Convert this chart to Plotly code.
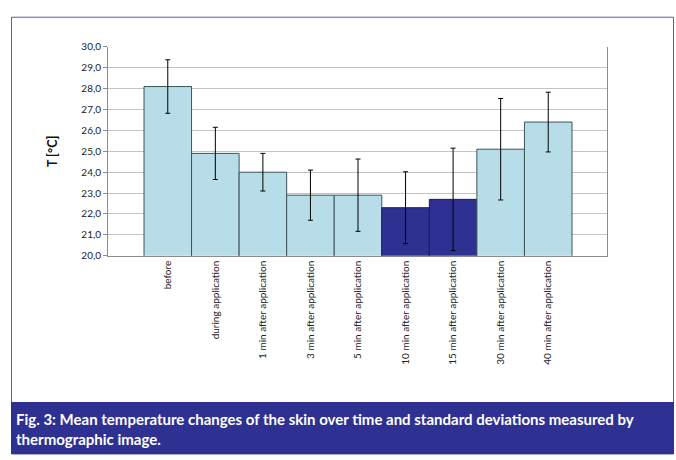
import plotly.graph_objects as go

categories = ["before", "during application", "1 min after application", "3 min after application",
              "5 min after application", "10 min after application", "15 min after application",
              "30 min after application", "40 min after application"]
mean_temp = [28.1, 24.9, 24.0, 22.9, 22.9, 22.3, 22.7, 25.1, 26.4]
std_dev = [1.28, 1.25, 0.9, 1.2, 1.73, 1.72, 2.45, 2.43, 1.43]
highlight = [False, False, False, False, False, True, True, False, False]
y_ticks = [20 + i for i in range(11)]

LIGHT = "#B7DDE8"
DARK = "#2E3192"
W, H = 676, 460

colors = [DARK if h else LIGHT for h in highlight]
outlines = ["#1B1D5E" if h else "#3C5458" for h in highlight]

fig = go.Figure()
fig.add_trace(go.Bar(
    x=categories, y=mean_temp,
    marker=dict(color=colors, line=dict(color=outlines, width=1)),
    width=1.0,
    error_y=dict(type="data", array=std_dev, visible=True, color="#000000", thickness=1, width=2.5),
    showlegend=False,
))

fig.update_layout(
    width=W, height=H,
    margin=dict(l=0, r=0, t=0, b=0),
    paper_bgcolor="white", plot_bgcolor="white",
    separators=",.",
    font=dict(family="Lato, Open Sans, sans-serif", color="#222222"),
    xaxis=dict(
        domain=[108 / W, 607 / W],
        type="category",
        range=[-1.257, 9.236],
        tickangle=-90,
        tickfont=dict(size=10, color="#222222"),
        showline=True, linecolor="#8C8C8C", linewidth=1,
        ticks="", showgrid=False,
    ),
    yaxis=dict(
        domain=[(H - 256) / H, (H - 41) / H],
        range=[20, 30],
        tickvals=y_ticks,
        tickformat=".1f",
        tickfont=dict(size=10, color="#222222"),
        ticks="outside", ticklen=4, tickcolor="#8C8C8C",
        showline=True, linecolor="#8C8C8C", linewidth=1, mirror=True,
        showgrid=True, gridcolor="#C4C4C4", gridwidth=1,
        zeroline=False,
        title=dict(text="<b>T [°C]</b>", font=dict(size=12.5, color="#111111"), standoff=20),
    ),
    shapes=[
        dict(type="rect", xref="paper", yref="paper",
             x0=11.5 / W, x1=673.5 / W, y0=0, y1=1 - 10.5 / H,
             line=dict(color="#5B5EA6", width=1), fillcolor="rgba(0,0,0,0)", layer="below"),
        dict(type="rect", xref="paper", yref="paper",
             x0=11 / W, x1=674 / W, y0=0, y1=1 - 406.5 / H,
             line=dict(width=0), fillcolor=DARK, layer="above"),
    ],
    annotations=[
        dict(xref="paper", yref="paper", x=14 / W, y=1 - 413 / H,
             xanchor="left", yanchor="top", align="left", showarrow=False,
             text="<b>Fig. 3: Mean temperature changes of the skin over time and standard deviations measured by<br>thermographic image.</b>",
             font=dict(family="Lato, Open Sans, sans-serif", size=15, color="white")),
    ],
)

fig.write_html("out.html", config={"displayModeBar": False},
               post_script="document.body.style.margin='0';document.body.style.overflow='hidden';")
